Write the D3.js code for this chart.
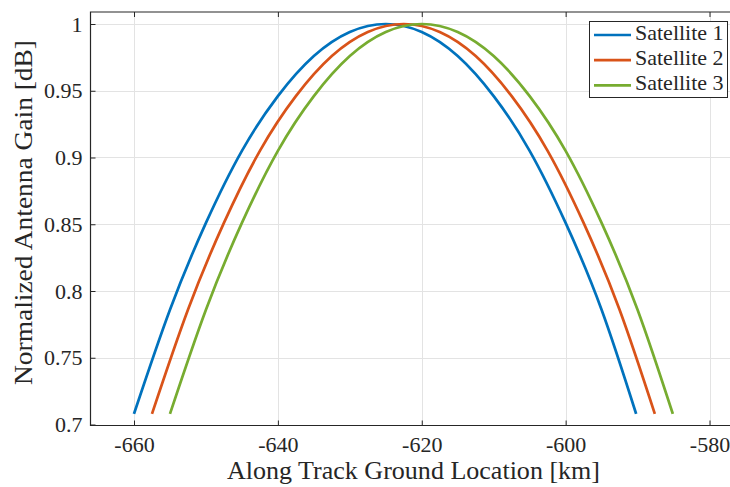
<!DOCTYPE html>
<html>
<head>
<meta charset="utf-8">
<script src="https://cdn.jsdelivr.net/npm/d3@7"></script>
<style type="text/css">
  body{
    background: white;
    margin: 0px;
  }
  text{
    font-family: 'Liberation Serif', 'DejaVu Serif', serif;
    fill: #262626;
  }
  .grid line{
    stroke: #e3e3e3;
    stroke-width: 1px;
  }
  .line{
    fill: none;
    stroke-width: 2.7px;
  }
</style>
</head>
<body>
<script>

// along track location [km], one array per satellite
var sat1X = [-660, -655, -650, -645, -640, -635, -630, -625, -620, -615, -610, -605, -600, -595, -590.2];
var sat2X = [-657.5, -652.5, -647.5, -642.5, -637.5, -632.5, -627.5, -622.5, -617.5, -612.5, -607.5, -602.5, -597.5, -592.5, -587.6];
var sat3X = [-655, -650, -645, -640, -635, -630, -625, -620, -615, -610, -605, -600, -595, -590, -585.1];

// normalized gain
var sat1Y = [0.708, 0.786, 0.851, 0.905, 0.946, 0.976, 0.994, 1.000, 0.994, 0.976, 0.946, 0.905, 0.851, 0.786, 0.708];
var sat2Y = [0.708, 0.786, 0.851, 0.905, 0.946, 0.976, 0.994, 1.000, 0.994, 0.976, 0.946, 0.905, 0.851, 0.786, 0.708];
var sat3Y = [0.708, 0.786, 0.851, 0.905, 0.946, 0.976, 0.994, 1.000, 0.994, 0.976, 0.946, 0.905, 0.851, 0.786, 0.708];

var seriesNames = ["Satellite 1", "Satellite 2", "Satellite 3"];
var seriesColors = ["#0072BD", "#D95319", "#77AC30"];

var xTicks = [-660, -640, -620, -600, -580];
var xTickLabels = ["-660", "-640", "-620", "-600", "-580"];
var yTicks = [0.7, 0.75, 0.8, 0.85, 0.9, 0.95, 1];
var yTickLabels = ["0.7", "0.75", "0.8", "0.85", "0.9", "0.95", "1"];

var xLabel = "Along Track Ground Location [km]";
var yLabel = "Normalized Antenna Gain [dB]";

var width = 730, height = 487;
var mLeft = 90.5, mTop = 12, mBottom = 425.5, mRight = 760;

var svg = d3.select("body").append("svg")
    .attr("width", width)
    .attr("height", height);

// -660 sits at 134px, -580 at 709.5px
var xScale = d3.scaleLinear().domain([-660, -580]).range([134, 709.5]);
var yScale = d3.scaleLinear().domain([0.7, 1]).range([424.5, 24]);

// grid
var grid = svg.append("g").attr("class", "grid");
grid.selectAll(".gx").data(xTicks).enter().append("line")
    .attr("x1", function(d) { return Math.round(xScale(d)) + 0.5; })
    .attr("x2", function(d) { return Math.round(xScale(d)) + 0.5; })
    .attr("y1", mTop).attr("y2", mBottom);
grid.selectAll(".gy").data(yTicks).enter().append("line")
    .attr("y1", function(d) { return Math.round(yScale(d)) + 0.5; })
    .attr("y2", function(d) { return Math.round(yScale(d)) + 0.5; })
    .attr("x1", mLeft).attr("x2", mRight);

// curves
var series = [
  {name: seriesNames[0], color: seriesColors[0], data: d3.zip(sat1X, sat1Y)},
  {name: seriesNames[1], color: seriesColors[1], data: d3.zip(sat2X, sat2Y)},
  {name: seriesNames[2], color: seriesColors[2], data: d3.zip(sat3X, sat3Y)}
];

var line = d3.line()
    .curve(d3.curveNatural)
    .x(function(d) { return xScale(d[0]); })
    .y(function(d) { return yScale(d[1]); });

svg.selectAll(".line").data(series).enter().append("path")
    .attr("class", "line")
    .attr("stroke", function(d) { return d.color; })
    .attr("d", function(d) { return line(d.data); });

// axes, ticks inside like matlab
var xAxis = d3.axisBottom(xScale).tickValues(xTicks)
    .tickFormat(function(d, i) { return xTickLabels[i]; })
    .tickSizeInner(-5).tickSizeOuter(0).tickPadding(11);
var gx = svg.append("g")
    .attr("transform", "translate(0," + mBottom + ")")
    .call(xAxis);
gx.select(".domain").remove();
gx.selectAll("text").attr("font-size", "22px").style("font-family", "'Liberation Serif', serif");

var yAxis = d3.axisLeft(yScale).tickValues(yTicks).tickFormat(function(d, i) { return yTickLabels[i]; })
    .tickSizeInner(-5).tickSizeOuter(0).tickPadding(8);
var gy = svg.append("g")
    .attr("transform", "translate(" + mLeft + ",0)")
    .call(yAxis);
gy.select(".domain").remove();
gy.selectAll("text").attr("font-size", "22px").style("font-family", "'Liberation Serif', serif");

// top axis ticks
var xTop = d3.axisTop(xScale).tickValues(xTicks).tickSizeInner(-5).tickSizeOuter(0).tickFormat("");
var gt = svg.append("g").attr("transform", "translate(0," + mTop + ")").call(xTop);
gt.select(".domain").remove();

svg.selectAll(".tick line").attr("stroke", "#262626");

// box lines (open on the right, the figure is cropped there)
svg.append("path")
    .attr("d", "M" + mRight + "," + mTop + "H" + mLeft + "V" + mBottom + "H" + mRight)
    .attr("fill", "none")
    .attr("stroke", "#262626").attr("stroke-width", 1.2);

// axis labels
svg.append("text")
    .attr("x", 413.5)
    .attr("y", 479)
    .attr("text-anchor", "middle")
    .attr("font-size", "26px")
    .attr("textLength", 373)
    .attr("lengthAdjust", "spacingAndGlyphs")
    .text(xLabel);

svg.append("text")
    .attr("transform", "translate(32,212.5) rotate(-90)")
    .attr("text-anchor", "middle")
    .attr("font-size", "26px")
    .attr("textLength", 345)
    .attr("lengthAdjust", "spacingAndGlyphs")
    .text(yLabel);

// legend
var legend = svg.append("g").attr("transform", "translate(589.5,21.5)");
legend.append("rect")
    .attr("width", 138).attr("height", 76)
    .attr("fill", "white").attr("stroke", "#262626").attr("stroke-width", 1);

series.forEach(function(s, i) {
  var yy = 13.5 + i * 25.2;
  legend.append("line")
      .attr("x1", 4.5).attr("x2", 41.5).attr("y1", yy).attr("y2", yy)
      .attr("stroke", s.color).attr("stroke-width", 2.7);
  legend.append("text")
      .attr("x", 45.5).attr("y", yy + 4.5)
      .attr("font-size", "22px")
      .text(s.name);
});

</script>
</body>
</html>
